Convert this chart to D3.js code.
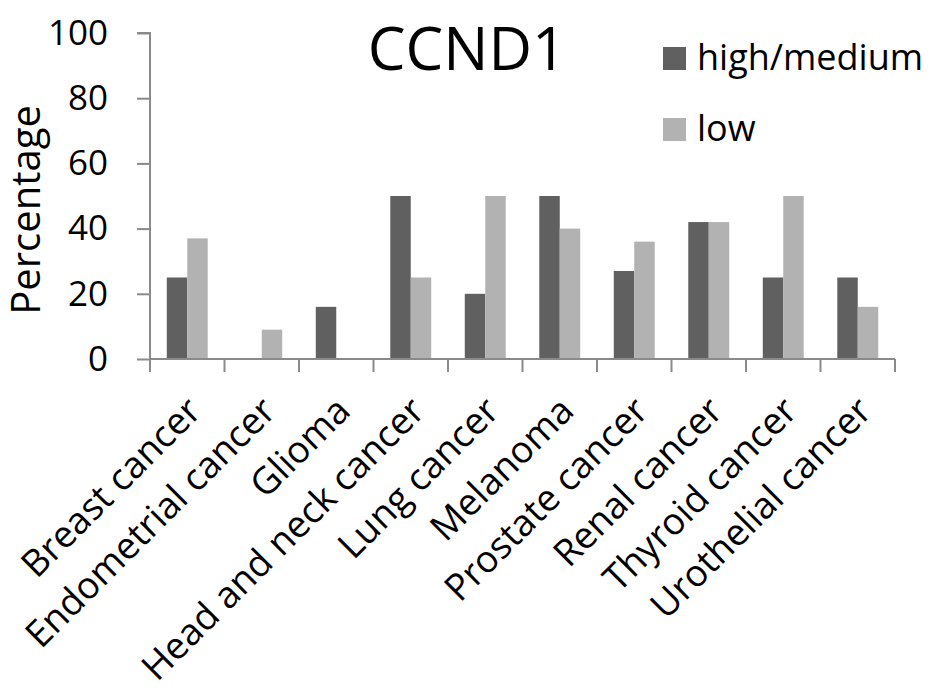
<!DOCTYPE html>
<html>
<head>
<meta charset="utf-8">
<script src="https://cdn.jsdelivr.net/npm/d3@7"></script>
<style>
  body { margin: 0; background: #fff; }
  text { font-family: "Open Sans", sans-serif; fill: #000; }
</style>
</head>
<body>
<div id="chart"></div>
<script>
const categories = ["Breast cancer", "Endometrial cancer", "Glioma", "Head and neck cancer", "Lung cancer",
  "Melanoma", "Prostate cancer", "Renal cancer", "Thyroid cancer", "Urothelial cancer"];
const seriesNames = ["high/medium", "low"];
const highMedium = [25, 0, 16, 50, 20, 50, 27, 42, 25, 25];
const low = [37, 9, 0, 25, 50, 40, 36, 42, 50, 16];
const yTicks = [0, 20, 40, 60, 80, 100];

const width = 945, height = 700;
const colors = ["#606060", "#b2b2b2"];
const axisColor = "#8a8a8a";

const svg = d3.select("#chart").append("svg")
    .attr("width", width)
    .attr("height", height);

const x0 = d3.scaleBand().domain(categories).range([150, 895]);
const x1 = d3.scaleBand().domain(seriesNames).range([0, x0.bandwidth()]).paddingOuter(0.82);
const y = d3.scaleLinear().domain([0, 100]).range([359, 33]);

const rows = categories.map((c, i) => ({ cat: c, values: [highMedium[i], low[i]] }));

// bars
const groups = svg.selectAll(".grp")
    .data(rows)
    .enter().append("g")
    .attr("transform", d => "translate(" + x0(d.cat) + ",0)");

groups.selectAll("rect")
    .data(d => d.values.map((v, i) => ({ key: seriesNames[i], value: v, i: i })))
    .enter().append("rect")
    .attr("x", d => x1(d.key))
    .attr("y", d => y(d.value))
    .attr("width", x1.bandwidth())
    .attr("height", d => y(0) - y(d.value))
    .style("fill", d => colors[d.i]);

// y axis
const yAxis = svg.append("g")
    .attr("transform", "translate(150,0)")
    .call(d3.axisLeft(y).tickValues(yTicks).tickSize(13).tickPadding(29));
yAxis.selectAll("path, line").attr("stroke", axisColor).attr("stroke-width", 2);
yAxis.select(".domain").attr("d", "M-13," + y(100) + "H0V" + y(0));
yAxis.selectAll("text")
    .attr("font-size", 35)
    .attr("font-family", "'Open Sans', sans-serif")
    .attr("fill", "#000");

// x axis: line with ticks at category boundaries
const bounds = categories.map(c => x0(c)).concat([x0.range()[1]]);
svg.append("line")
    .attr("x1", x0.range()[0]).attr("x2", x0.range()[1])
    .attr("y1", y(0)).attr("y2", y(0))
    .attr("stroke", axisColor).attr("stroke-width", 2);
svg.selectAll(".xtick")
    .data(bounds)
    .enter().append("line")
    .attr("x1", d => d).attr("x2", d => d)
    .attr("y1", y(0)).attr("y2", y(0) + 13)
    .attr("stroke", axisColor).attr("stroke-width", 2);

svg.selectAll(".xlabel")
    .data(categories)
    .enter().append("text")
    .attr("transform", d => "translate(" + (x0(d) + x0.bandwidth() / 2 + 16) + ",413) rotate(-45)")
    .attr("text-anchor", "end")
    .attr("font-size", 37)
    .text(d => d);

// y axis title
svg.append("text")
    .attr("transform", "translate(40,210) rotate(-90)")
    .attr("text-anchor", "middle")
    .attr("font-size", 40)
    .text("Percentage");

// chart title
svg.append("text")
    .attr("x", 467)
    .attr("y", 70)
    .attr("text-anchor", "middle")
    .attr("font-size", 60)
    .text("CCND1");

// legend
const legend = svg.selectAll(".legend")
    .data(seriesNames)
    .enter().append("g")
    .attr("transform", (d, i) => "translate(663," + (47 + i * 71) + ")");
legend.append("rect")
    .attr("width", 23).attr("height", 23)
    .style("fill", (d, i) => colors[i]);
legend.append("text")
    .attr("x", 34).attr("y", 23)
    .attr("font-size", 36)
    .text(d => d);
</script>
</body>
</html>
